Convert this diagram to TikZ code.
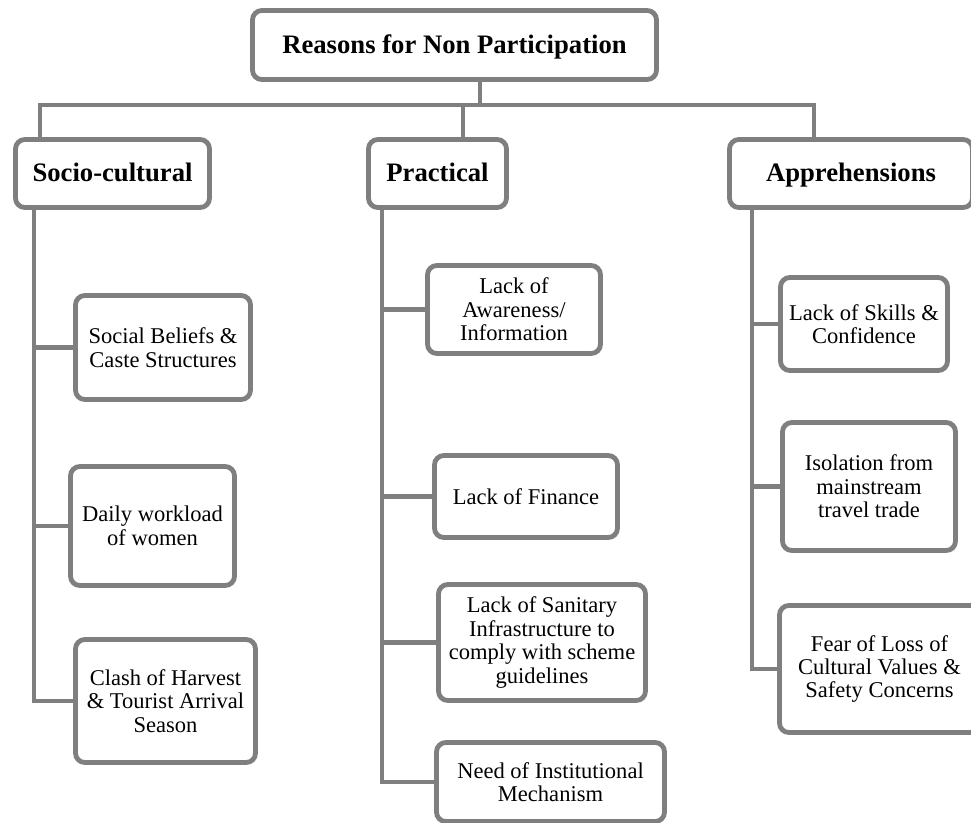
\documentclass[tikz,border=0pt]{standalone}
\usepackage{fontspec}
\setmainfont{Liberation Serif}
\usetikzlibrary{backgrounds}
\definecolor{lg}{HTML}{7F7F7F}
\tikzset{
  conn/.style={draw=lg, line width=3.6pt},
  bx/.style={draw=lg, line width=3.6pt, fill=white, rounded corners=7pt, align=center, inner sep=0pt,
    font=\fontsize{16.9}{17.6}\selectfont},
  hd/.style={bx, text height=15pt, text depth=3pt, font=\fontsize{20}{22}\selectfont\bfseries},
}
\begin{document}
\begin{tikzpicture}[x=0.75pt,y=-0.75pt]
\useasboundingbox (0,0) rectangle (971,822);
\clip (0,0) rectangle (971,822);
% headings
\node[hd, minimum width=303pt, minimum height=51.75pt] (top) at (454.5,45) {Reasons for Non Participation};
\node[hd, minimum width=145.5pt, minimum height=51pt] (socio) at (112.5,173.5) {Socio-cultural};
\node[hd, minimum width=103.5pt, minimum height=51pt] (prac) at (437.5,173.5) {Practical};
\node[hd, minimum width=182.25pt, minimum height=51pt] (appr) at (851,173.5) {Apprehensions};
% socio-cultural
\node[bx, minimum width=131.25pt, minimum height=78pt] (social) at (163,347.5) {Social Beliefs \&\\Caste Structures};
\node[bx, minimum width=123pt, minimum height=89.25pt] (daily) at (152.5,526) {Daily workload\\of women};
\node[bx, minimum width=135pt, minimum height=92.25pt] (clash) at (165.5,701) {Clash of Harvest\\\& Tourist Arrival\\Season};
% practical
\node[bx, minimum width=129.75pt, minimum height=66pt] (aware) at (514,309.5) {Lack of\\Awareness/\\Information};
\node[bx, minimum width=137.25pt, minimum height=61.5pt] (fin) at (526,496.5) {Lack of Finance};
\node[bx, minimum width=155.25pt, minimum height=87pt] (sanit) at (542,642.5) {Lack of Sanitary\\Infrastructure to\\comply with scheme\\guidelines};
\node[bx, minimum width=171pt, minimum height=59.25pt] (need) at (550.5,782) {Need of Institutional\\Mechanism};
% apprehensions
\node[bx, minimum width=125.25pt, minimum height=69.75pt] (skills) at (864,324) {Lack of Skills \&\\Confidence};
\node[bx, minimum width=129.75pt, minimum height=96pt] (isol) at (869,486.5) {Isolation from\\mainstream\\travel trade};
\node[bx, minimum width=150pt, minimum height=95.25pt] (fear) at (879.5,669) {Fear of Loss of\\Cultural Values \&\\Safety Concerns};
% connectors
\coordinate (b0) at (480,105);
\coordinate (bl) at (40,105);
\coordinate (bm) at (463,105);
\coordinate (br) at (814,105);
\coordinate (sv) at (34,0);
\coordinate (pv) at (382,0);
\coordinate (av) at (752,0);
\begin{scope}[on background layer]
\draw[conn] (top.south -| b0) -- (b0);
\draw[conn] (socio.north -| bl) |- (br) -- (appr.north -| br);
\draw[conn] (bm) -- (prac.north -| bm);
\draw[conn] (socio.south -| sv) |- (clash.west);
\draw[conn] (social.west -| sv) -- (social.west);
\draw[conn] (daily.west -| sv) -- (daily.west);
\draw[conn] (prac.south -| pv) |- (need.west);
\draw[conn] (aware.west -| pv) -- (aware.west);
\draw[conn] (fin.west -| pv) -- (fin.west);
\draw[conn] (sanit.west -| pv) -- (sanit.west);
\draw[conn] (appr.south -| av) |- (fear.west);
\draw[conn] (skills.west -| av) -- (skills.west);
\draw[conn] (isol.west -| av) -- (isol.west);
\end{scope}
\end{tikzpicture}
\end{document}
